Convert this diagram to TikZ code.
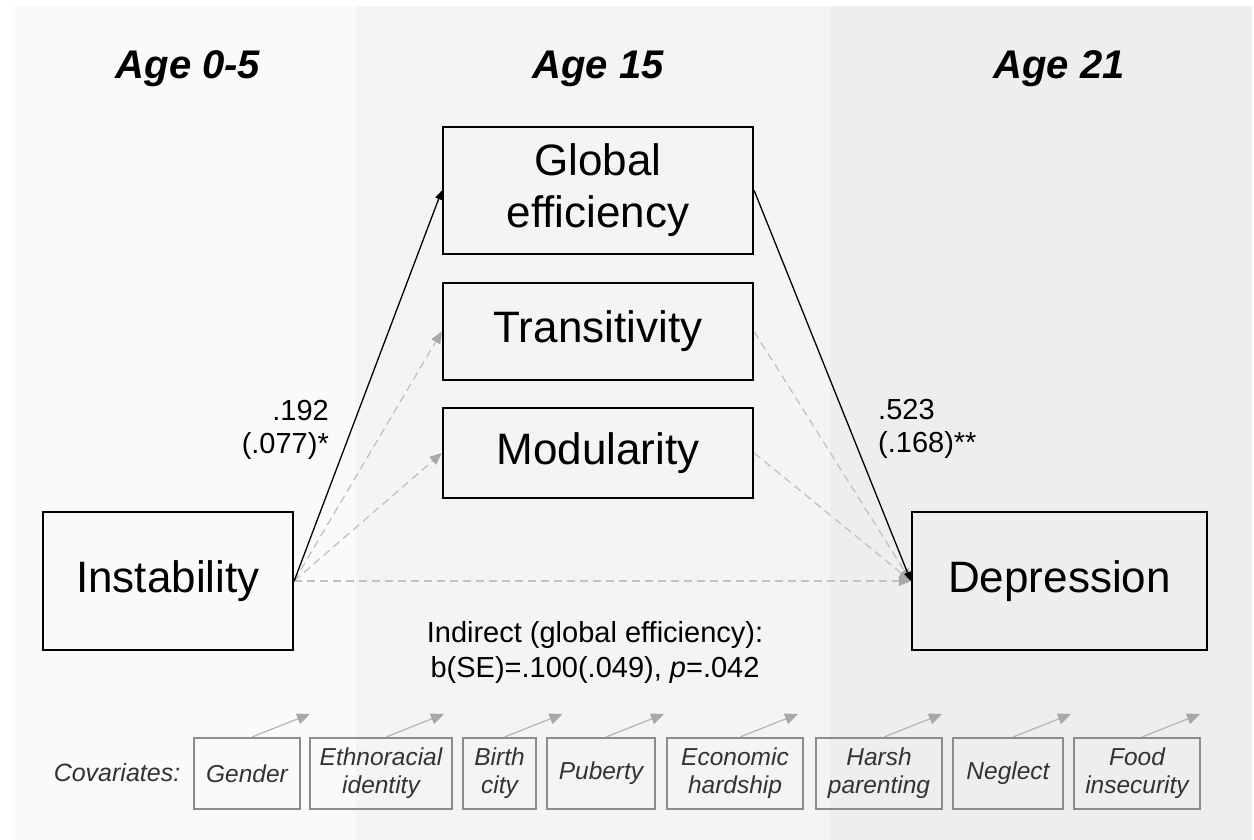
\documentclass[tikz,border=0pt]{standalone}
\usepackage{fontspec}
\setmainfont{Liberation Sans}
\usetikzlibrary{arrows.meta}
\definecolor{bgA}{HTML}{FAFAFA}
\definecolor{bgB}{HTML}{F4F4F4}
\definecolor{bgC}{HTML}{EEEEEE}
\definecolor{dashgray}{HTML}{C2C2C2}
\definecolor{tipgray}{HTML}{A8A8A8}
\definecolor{covborder}{HTML}{8C8C8C}
\definecolor{covtext}{HTML}{333333}
\definecolor{covline}{HTML}{B4B4B4}
\begin{document}
\begin{tikzpicture}[x=1pt,y=-1pt,
  mainbox/.style={draw=black, line width=2.3pt, align=center, inner sep=0pt,
    font=\fontsize{44}{52}\selectfont},
  agelabel/.style={font=\fontsize{40}{48}\selectfont\bfseries\itshape, anchor=base},
  coef/.style={font=\fontsize{29}{33}\selectfont, inner sep=0pt},
  covbox/.style={draw=covborder, line width=2pt, align=center, inner sep=0pt,
    minimum height=71pt, text=covtext, font=\fontsize{24.5}{28}\selectfont\itshape},
  solidarrow/.style={draw=black, line width=1.3pt, -{Triangle[length=9pt,width=7pt]}},
  dasharrow/.style={draw=dashgray, line width=1.3pt, dash pattern=on 8pt off 5pt,
    -{Triangle[length=12pt,width=10pt,fill=tipgray,color=tipgray]}},
  covarrow/.style={draw=covline, line width=1.2pt,
    -{Triangle[length=13pt,width=11pt,fill=tipgray,color=tipgray]}}
]
\useasboundingbox (0,0) rectangle (1254,840);
\fill[white] (0,0) rectangle (1254,840);
\fill[bgA] (12,6) rectangle (356,840);
\fill[bgB] (356,6) rectangle (830,840);
\fill[bgC] (830,6) rectangle (1252,840);

% age headers
\node[agelabel] (a1) at (188,79) {Age 0-5};
\node[agelabel] (a2) at (598,79) {Age 15};
\node[agelabel] (a3) at (1059,79) {Age 21};

% main nodes
\node[mainbox, minimum width=250pt, minimum height=138pt] (inst) at (168,581) {Instability};
\node[mainbox, minimum width=310pt, minimum height=127pt] (glob) at (598,190.5) {Global\\efficiency};
\node[mainbox, minimum width=310pt, minimum height=97pt] (trans) at (598,331.5) {Transitivity};
\node[mainbox, minimum width=310pt, minimum height=90pt] (mod) at (598,453) {Modularity};
\node[mainbox, minimum width=295pt, minimum height=138pt] (dep) at (1059.5,581) {Depression};

% connectors
\draw[dasharrow] (inst.east) -- (trans.west);
\draw[dasharrow] (inst.east) -- (mod.west);
\draw[dasharrow] (inst.east) -- (dep.west);
\draw[dasharrow] (trans.east) -- (dep.west);
\draw[dasharrow] (mod.east) -- (dep.west);
\draw[solidarrow] (inst.east) -- (glob.west);
\draw[solidarrow] (glob.east) -- (dep.west);

% coefficients
\node[coef, align=right, anchor=north east] (c1) at (329,400) {.192\\(.077)*};
\node[coef, align=left, anchor=north west] (c2) at (878,399) {.523\\(.168)**};

% indirect effect
\node[font=\fontsize{29}{35}\selectfont, align=center, inner sep=0pt, anchor=north] (ind) at (595,621)
  {Indirect (global efficiency):\\b(SE)=.100(.049), \textit{p}=.042};

% covariates
\node[font=\fontsize{25}{28}\selectfont\itshape, text=covtext, anchor=base, inner sep=0pt] (cov) at (117,781) {Covariates:};
\node[covbox, minimum width=106pt] (g1) at (247,773.5) {Gender};
\node[covbox, minimum width=142pt] (g2) at (381,773.5) {Ethnoracial\\identity};
\node[covbox, minimum width=73pt] (g3) at (499.5,773.5) {Birth\\city};
\node[covbox, minimum width=108pt] (g4) at (601,773.5) {Puberty};
\node[covbox, minimum width=136pt] (g5) at (735,773.5) {Economic\\hardship};
\node[covbox, minimum width=126pt] (g6) at (879,773.5) {Harsh\\parenting};
\node[covbox, minimum width=110pt] (g7) at (1008,773.5) {Neglect};
\node[covbox, minimum width=126pt] (g8) at (1137,773.5) {Food\\insecurity};
\foreach \g in {g1,g2,g3,g4,g5,g6,g7,g8}{
  \draw[covarrow] ([xshift=5pt]\g.north) -- ++(58,-23);
}
\end{tikzpicture}
\end{document}
